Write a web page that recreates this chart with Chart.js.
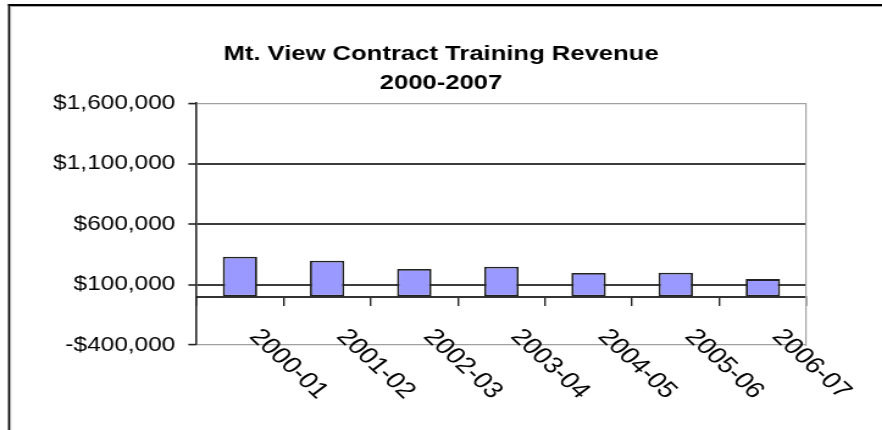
<!DOCTYPE html>
<html>
<head>
<meta charset="utf-8">
<script src="https://cdn.jsdelivr.net/npm/chart.js@4.4.0/dist/chart.umd.min.js"></script>
<style>
  html, body { margin: 0; padding: 0; background: #fff; overflow: hidden; }
  /* the original picture is stretched sideways, so the canvas is too */
  #wrap { width: 723px; height: 430px; transform: scaleX(1.22); transform-origin: 0 0; }
</style>
</head>
<body>
<div id="wrap"><canvas id="revenue" width="723" height="430"></canvas></div>
<script>
const years = ["2000-01", "2001-02", "2002-03", "2003-04", "2004-05", "2005-06", "2006-07"];
const revenue = [330000, 297000, 228000, 247000, 195000, 198000, 145000];
const yTicks = [-400000, 100000, 600000, 1100000, 1600000];
const titleLines = ["Mt. View Contract Training Revenue", "2000-2007"];

const police = "'Liberation Sans', Arial, sans-serif";

const dollars = v => (v < 0 ? "-" : "") + "$" + Math.abs(v).toLocaleString("en-US");

// cadre noir du graphique
const cadre = {
    id: "cadre",
    beforeDraw(chart) {
        const ctx = chart.ctx;
        ctx.save();
        ctx.fillStyle = "#000";
        ctx.fillRect(6.6, 4, 1.7, chart.height);
        ctx.fillRect(6.6, 4, chart.width, 2);
        ctx.fillStyle = "#aaa";
        ctx.fillRect(8.3, 6, 0.8, chart.height);
        ctx.fillRect(8.3, 6, chart.width, 1);
        ctx.restore();
    }
};

// étiquettes de l'axe x, tournées vers le bas à droite
const etiquettesX = {
    id: "etiquettesX",
    afterDraw(chart) {
        const {ctx, scales} = chart;
        const y0 = scales.y.getPixelForValue(0);
        ctx.save();
        ctx.font = "23px " + police;
        ctx.fillStyle = "#000";
        ctx.textAlign = "left";
        ctx.textBaseline = "top";
        years.forEach((label, i) => {
            ctx.save();
            ctx.translate(scales.x.getPixelForValue(i) + 20, y0 + 28.5);
            ctx.rotate(48 * Math.PI / 180);
            ctx.fillText(label, 0, 0);
            ctx.restore();
        });
        ctx.restore();
    }
};

new Chart(document.getElementById("revenue"), {
    type: "bar",
    data: {
        labels: years,
        datasets: [{
            data: revenue,
            backgroundColor: "#9999ff",
            borderColor: "#222",
            borderWidth: 1.8,
            borderSkipped: false,
            categoryPercentage: 1,
            barPercentage: 0.395
        }]
    },
    options: {
        responsive: false,
        animation: false,
        layout: {padding: {left: 0, right: 0, top: 0, bottom: 85}},
        plugins: {
            legend: {display: false},
            tooltip: {enabled: false},
            title: {
                display: true,
                text: titleLines,
                color: "#000",
                font: {family: police, size: 21, weight: "bold", lineHeight: 1.36},
                padding: {top: 40, bottom: 6}
            }
        },
        scales: {
            x: {
                type: "category",
                position: {y: 0},
                offset: true,
                grid: {display: true, drawOnChartArea: false, drawTicks: true, tickLength: 8, color: "#222", lineWidth: 1.4, offset: true},
                border: {display: true, color: "#333", width: 2},
                ticks: {display: false}
            },
            y: {
                min: yTicks[0],
                max: yTicks[yTicks.length - 1],
                afterBuildTicks: s => { s.ticks = yTicks.map(v => ({value: v})); },
                afterFit: s => { s.width = 161; },
                grid: {
                    color: c => (c.index === 0 || c.index === yTicks.length - 1) ? "#a0a0a0" : "#3c3c3c",
                    lineWidth: c => (c.index === 0 || c.index === yTicks.length - 1) ? 1.2 : 2,
                    tickColor: "#222",
                    tickWidth: 1.6,
                    tickLength: 6.6
                },
                border: {display: true, color: "#222", width: 1.6},
                ticks: {
                    padding: 10.7,
                    color: "#000",
                    font: {family: police, size: 20},
                    callback: v => dollars(v)
                }
            },
            // bord droit gris de la zone de tracé
            droite: {
                position: "right",
                min: yTicks[0],
                max: yTicks[yTicks.length - 1],
                afterFit: s => { s.width = 62; },
                grid: {drawOnChartArea: false, drawTicks: false},
                border: {display: true, color: "#a0a0a0", width: 1.2},
                ticks: {display: false}
            }
        }
    },
    plugins: [cadre, etiquettesX]
});
</script>
</body>
</html>
